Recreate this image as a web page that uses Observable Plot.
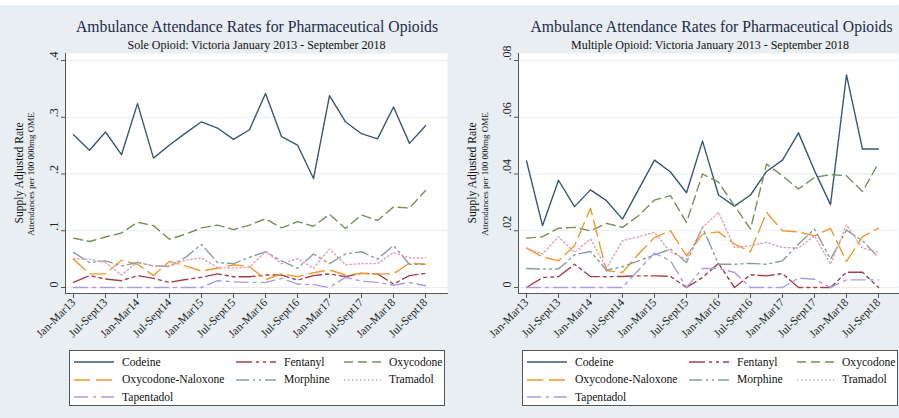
<!DOCTYPE html>
<html><head><meta charset="utf-8">
<script src="https://cdn.jsdelivr.net/npm/d3@7"></script>
<script src="https://cdn.jsdelivr.net/npm/@observablehq/plot@0.6"></script>
<style>
html,body{margin:0;padding:0;background:#fff;}
#root{position:relative;width:899px;height:418px;overflow:hidden;font-family:"Liberation Serif","Times New Roman",serif;}
.bg{position:absolute;left:0;top:5px;width:899px;height:413px;background:#e8eef2;}
.title{position:absolute;white-space:nowrap;transform:translate(-50%,-50%);color:#1c2b4a;font-size:15.7px;}
.sub{position:absolute;white-space:nowrap;transform:translate(-50%,-50%);color:#111;font-size:12px;}
.ylab{position:absolute;white-space:nowrap;transform:translate(-50%,-50%) rotate(-90deg);color:#111;}
.plot{position:absolute;top:50px;}
.legend{position:absolute;top:350px;height:56px;width:376px;background:#fff;border:1px solid #555;box-sizing:border-box;}
.li{position:absolute;height:16px;display:flex;align-items:center;font-size:11.6px;color:#111;white-space:nowrap;}
.li svg{display:block;margin-right:8px;}
</style></head>
<body><div id="root"><div class="bg"></div></div>
<script>
const quarters = ["Jan-Mar13","Apr-Jun13","Jul-Sept13","Oct-Dec13","Jan-Mar14","Apr-Jun14","Jul-Sept14","Oct-Dec14","Jan-Mar15","Apr-Jun15","Jul-Sept15","Oct-Dec15","Jan-Mar16","Apr-Jun16","Jul-Sept16","Oct-Dec16","Jan-Mar17","Apr-Jun17","Jul-Sept17","Oct-Dec17","Jan-Mar18","Apr-Jun18","Jul-Sept18"];
const xTickLabels = quarters.filter((d, i) => i % 2 === 0);
const drugs = ["Codeine","Fentanyl","Oxycodone","Oxycodone-Naloxone","Morphine","Tramadol","Tapentadol"];

const titleText = "Ambulance Attendance Rates for Pharmaceutical Opioids";
const subtitles = ["Sole Opioid: Victoria January 2013 - September 2018","Multiple Opioid: Victoria January 2013 - September 2018"];
const yTitle = "Supply Adjusted Rate";
const ySubTitle = "Attendances per 100 000mg OME";

const soleTicks = [0, 0.1, 0.2, 0.3, 0.4];
const multiTicks = [0, 0.02, 0.04, 0.06, 0.08];

const soleCodeine = [0.269,0.242,0.274,0.234,0.324,0.228,0.251,0.272,0.292,0.281,0.261,0.278,0.342,0.266,0.251,0.192,0.338,0.292,0.271,0.262,0.318,0.254,0.285];
const soleFentanyl = [0.009,0.021,0.015,0.012,0.021,0.016,0.009,0.014,0.018,0.024,0.019,0.019,0.022,0.022,0.013,0.021,0.024,0.019,0.025,0.024,0.006,0.021,0.025];
const soleOxycodone = [0.087,0.081,0.089,0.096,0.115,0.109,0.085,0.094,0.105,0.110,0.102,0.110,0.121,0.105,0.116,0.108,0.129,0.104,0.128,0.118,0.142,0.140,0.171];
const soleOxyNal = [0.050,0.024,0.024,0.048,0.041,0.021,0.046,0.038,0.029,0.034,0.040,0.037,0.014,0.024,0.019,0.026,0.031,0.022,0.025,0.024,0.024,0.043,0.041];
const soleMorphine = [0.062,0.044,0.047,0.038,0.044,0.038,0.037,0.053,0.076,0.044,0.042,0.053,0.063,0.047,0.034,0.059,0.042,0.059,0.063,0.050,0.074,0.041,0.041];
const soleTramadol = [0.051,0.050,0.044,0.022,0.045,0.038,0.038,0.048,0.052,0.035,0.034,0.036,0.064,0.042,0.051,0.034,0.068,0.040,0.042,0.042,0.062,0.052,0.052];
const soleTapentadol = [0,0,0,0,0,0,0,0,0,0.012,0.010,0.009,0.009,0.016,0.006,0.005,0,0.018,0.011,0.009,0.004,0.009,0.003];

const multiCodeine = [0.0446,0.0218,0.0378,0.0285,0.0344,0.0306,0.0241,0.0345,0.0449,0.0407,0.0334,0.0516,0.0326,0.0287,0.0326,0.0409,0.0449,0.0545,0.0412,0.0292,0.0749,0.0488,0.0488];
const multiFentanyl = [0,0.0035,0.0038,0.0082,0.0039,0.0038,0.0039,0.0041,0.0041,0.0039,0,0.0035,0.0085,0,0.0045,0.0041,0.0049,0,0,0,0.0054,0.0054,0];
const multiOxycodone = [0.0174,0.0179,0.0209,0.0212,0.0200,0.0226,0.0212,0.0253,0.0308,0.0324,0.0229,0.0400,0.0371,0.0288,0.0206,0.0435,0.0394,0.0347,0.0388,0.0398,0.0394,0.0338,0.0438];
const multiOxyNal = [0.0139,0.0108,0.0094,0.0147,0.0279,0.0059,0.0053,0.0118,0.0176,0.0200,0.0112,0.0188,0.0196,0.0153,0.0126,0.0265,0.0200,0.0196,0.0182,0.0208,0.0092,0.0179,0.0209];
const multiMorphine = [0.0067,0.0065,0.0065,0.0115,0.0127,0.0061,0.0073,0.0094,0.0115,0.0135,0.0088,0.0212,0.0082,0.0082,0.0085,0.0082,0.0094,0.0153,0.0206,0.0100,0.0202,0.0165,0.0106];
const multiTramadol = [0.0139,0.0118,0.0179,0.0124,0.0171,0.0068,0.0165,0.0179,0.0194,0.0124,0.0100,0.0212,0.0265,0.0141,0.0147,0.0159,0.0141,0.0139,0.0182,0.0082,0.0221,0.0139,0.0124];
const multiTapentadol = [0,0,0,0,0,0,0,0.0062,0.0121,0.0094,0,0.0067,0.0067,0.0053,0,0,0,0.0033,0.0029,0,0.0027,0.0027,0.0027];

// styles (separate from data)
const styles = {
  "Codeine": {stroke:"#3a5677", dash:null},
  "Fentanyl": {stroke:"#a3404c", dash:"16,4,3,4,3,4"},
  "Oxycodone": {stroke:"#76905a", dash:"9,5"},
  "Oxycodone-Naloxone": {stroke:"#f09a30", dash:"16,6"},
  "Morphine": {stroke:"#86a096", dash:"13,4,2,4,2,4"},
  "Tramadol": {stroke:"#e2a2b4", dash:"1.5,2.5"},
  "Tapentadol": {stroke:"#a79de0", dash:"14,5,3,5"}
};
const gridColor = "#e6edf1";
const axisColor = "#555";
const fmt = d => d === 0 ? "0" : String(d).replace(/^0/, "");

const panels = [
  {left:0, width:449, mL:65, mR:2, inL:7, inR:21, ticks:soleTicks, sub:subtitles[0], titleX:257, subX:256.5, yl1:19, yl2:31, legL:69,
   series:[soleCodeine,soleFentanyl,soleOxycodone,soleOxyNal,soleMorphine,soleTramadol,soleTapentadol]},
  {left:450, width:449, mL:68, mR:1, inL:7.3, inR:19, ticks:multiTicks, sub:subtitles[1], titleX:261.5, subX:260, yl1:21.5, yl2:34.5, legL:72,
   series:[multiCodeine,multiFentanyl,multiOxycodone,multiOxyNal,multiMorphine,multiTramadol,multiTapentadol]}
];

const root = document.getElementById("root");
function addDiv(cls, text, css) {
  const d = document.createElement("div");
  d.className = cls; d.textContent = text;
  Object.assign(d.style, css);
  root.appendChild(d);
  return d;
}

panels.forEach(p => {
  addDiv("title", titleText, {left:(p.left + p.titleX)+"px", top:"27px"});
  addDiv("sub", p.sub, {left:(p.left + p.subX)+"px", top:"45px"});
  addDiv("ylab", yTitle, {left:(p.left + p.yl1)+"px", top:"173px", fontSize:"11.6px"});
  addDiv("ylab", ySubTitle, {left:(p.left + p.yl2)+"px", top:"174px", fontSize:"9px"});

  const lines = p.series.map((vals, k) => Plot.line(vals, {
    x: (d, i) => quarters[i], y: d => d,
    stroke: styles[drugs[k]].stroke, strokeWidth: 1.4,
    strokeDasharray: styles[drugs[k]].dash || undefined
  }));

  const chart = Plot.plot({
    width: p.width, height: 298,
    marginLeft: p.mL, marginRight: p.mR, marginTop: 3, marginBottom: 55,
    style: {background:"transparent", overflow:"visible", fontFamily:"Liberation Serif, Times New Roman, serif"},
    x: {type:"point", domain: quarters, padding:0, insetLeft:p.inL, insetRight:p.inR},
    y: {domain:[0, p.ticks[p.ticks.length-1]], insetTop:7, insetBottom:6},
    marks: [
      Plot.frame({fill:"white", stroke:null}),
      Plot.gridY(p.ticks, {stroke:gridColor, strokeOpacity:1, strokeWidth:1.2}),
      Plot.frame({anchor:"left", stroke:axisColor}),
      Plot.frame({anchor:"bottom", stroke:axisColor}),
      Plot.axisY(p.ticks, {tickSize:4, tickFormat:() => "", label:null, stroke:axisColor}),
      Plot.text(p.ticks, {y:d => d, text:fmt, frameAnchor:"left", dx:-11, rotate:-90, fontSize:12, fill:"#222"}),
      Plot.axisX(xTickLabels, {tickSize:5, tickRotate:-45, fontSize:11.5, tickPadding:2, label:null, stroke:axisColor, fill:"#222"}),
      ...lines
    ]
  });
  const wrap = document.createElement("div");
  wrap.className = "plot";
  wrap.style.left = p.left + "px";
  wrap.appendChild(chart);
  root.appendChild(wrap);

  // legend
  const leg = document.createElement("div");
  leg.className = "legend";
  leg.style.left = (p.left + p.legL) + "px";
  const colX = [4, 166, 274];
  const swW = [40, 40, 37];
  drugs.forEach((name, k) => {
    const row = Math.floor(k / 3), col = k % 3;
    const it = document.createElement("div");
    it.className = "li";
    it.style.left = colX[col] + "px";
    it.style.top = (3 + row * 17.5) + "px";
    const w = swW[col];
    const s = styles[name];
    it.innerHTML = `<svg width="${w}" height="10"><line x1="0" y1="5" x2="${w}" y2="5" stroke="${s.stroke}" stroke-width="1.5" ${s.dash ? `stroke-dasharray="${s.dash}"` : ""}/></svg><span>${name}</span>`;
    leg.appendChild(it);
  });
  root.appendChild(leg);
});
</script></body></html>
